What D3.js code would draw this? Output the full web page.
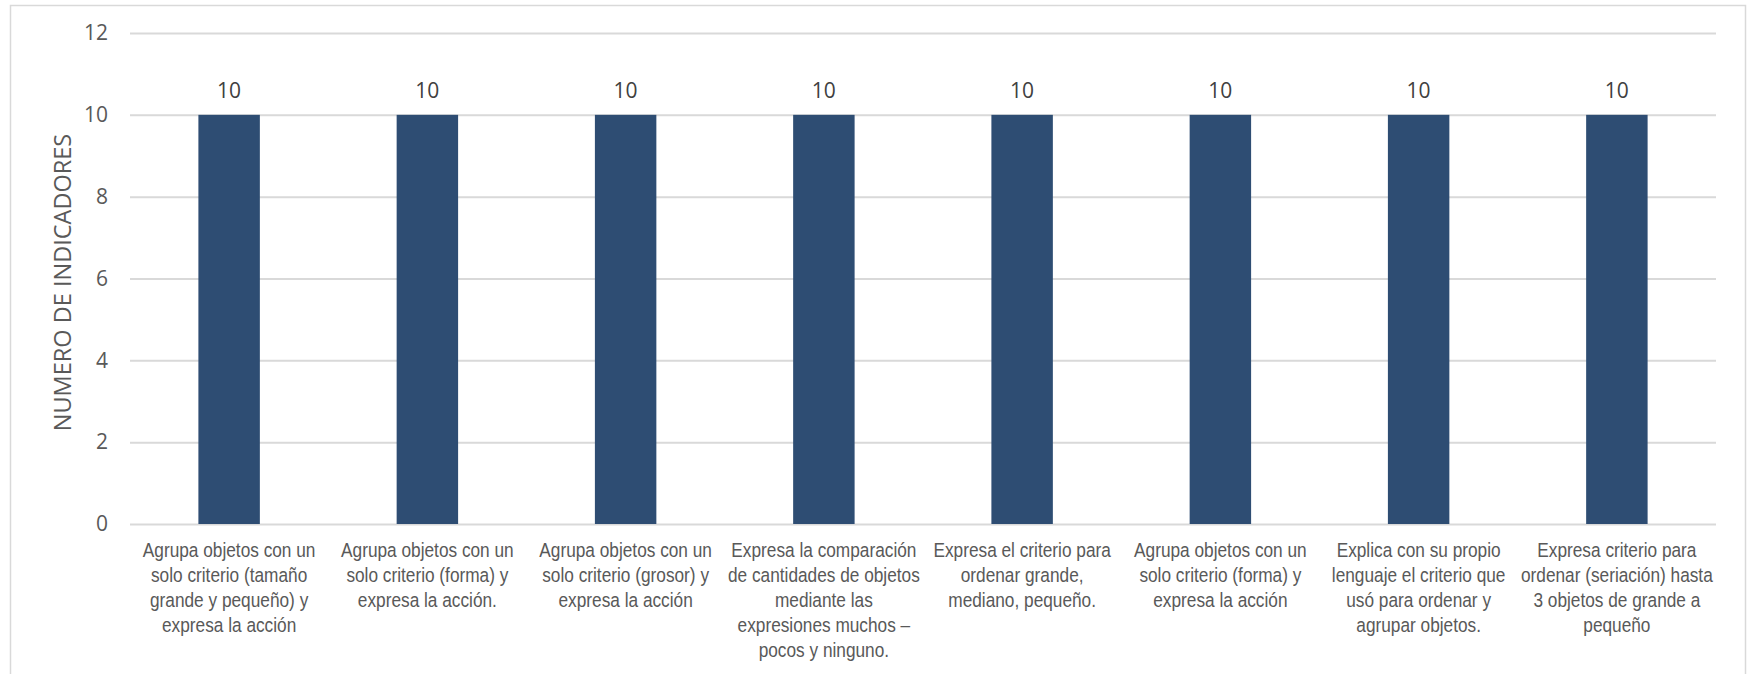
<!DOCTYPE html>
<html><head><meta charset="utf-8">
<script src="https://cdn.jsdelivr.net/npm/d3@7"></script>
<style>body{margin:0;background:#fff}svg{display:block}</style>
</head><body>
<script>
const categories = [
  ["Agrupa objetos con un","solo criterio (tamaño","grande y pequeño) y","expresa la acción"],
  ["Agrupa objetos con un","solo criterio (forma) y","expresa la acción."],
  ["Agrupa objetos con un","solo criterio (grosor) y","expresa la acción"],
  ["Expresa la comparación","de cantidades de objetos","mediante las","expresiones muchos –","pocos y ninguno."],
  ["Expresa el criterio para","ordenar grande,","mediano, pequeño."],
  ["Agrupa objetos con un","solo criterio (forma) y","expresa la acción"],
  ["Explica con su propio","lenguaje el criterio que","usó para ordenar y","agrupar objetos."],
  ["Expresa criterio para","ordenar (seriación) hasta","3 objetos de grande a","pequeño"]
];
const values = [10,10,10,10,10,10,10,10];
const yTicks = [0,2,4,6,8,10,12];
const yTitle = "NUMERO DE INDICADORES";

const W=1750,H=674;
const svg=d3.select("body").append("svg").attr("width",W).attr("height",H);
svg.append("rect").attr("x",10.5).attr("y",5.5).attr("width",1735).attr("height",H+10)
  .attr("fill","#fff").attr("stroke","#D9D9D9").attr("stroke-width",1.5);

const L=130,R=1716,T=33,B=524;
const x=d3.scaleBand().domain(d3.range(categories.length)).range([L,R]).paddingInner(0.69).paddingOuter(0.345);
const y=d3.scaleLinear().domain([0,12]).range([B,T]);

const grid=svg.append("g").attr("transform",`translate(${L},0)`)
  .call(d3.axisLeft(y).tickValues(yTicks).tickSize(-(R-L)).tickFormat(d3.format("d")).tickPadding(22));
grid.select(".domain").remove();
grid.selectAll(".tick line").attr("stroke","#D9D9D9").attr("stroke-width",2);
grid.selectAll(".tick text").attr("fill","#595959").attr("font-family","'Open Sans',sans-serif").attr("font-size",21);

svg.append("g").selectAll("rect").data(values).join("rect")
  .attr("x",(d,i)=>x(i)).attr("width",x.bandwidth())
  .attr("y",d=>y(d)).attr("height",d=>y(0)-y(d)).attr("fill","#2E4D73");

svg.append("g").selectAll("text").data(values).join("text")
  .attr("x",(d,i)=>x(i)+x.bandwidth()/2).attr("y",d=>y(d)-17)
  .attr("text-anchor","middle").attr("fill","#404040")
  .attr("font-family","'Open Sans',sans-serif").attr("font-size",21).text(d=>d);

const cl=svg.append("g").selectAll("text").data(categories).join("text")
  .attr("transform",(d,i)=>`translate(${x(i)+x.bandwidth()/2},0) scale(0.885,1)`)
  .attr("text-anchor","middle").attr("fill","#595959")
  .attr("font-family","'Liberation Sans',Arial,sans-serif").attr("font-size",19.5);
cl.each(function(lines,i){
  const t=d3.select(this);
  lines.forEach((ln,j)=>{
    t.append("tspan").attr("x",0).attr("y",557+j*25).text(ln);
  });
});

svg.append("text").attr("transform",`translate(71,${(T+B)/2+4}) rotate(-90)`)
  .attr("text-anchor","middle").attr("fill","#595959")
  .attr("font-family","'Open Sans',sans-serif").attr("font-size",23.5).text(yTitle);
</script>
</body></html>
